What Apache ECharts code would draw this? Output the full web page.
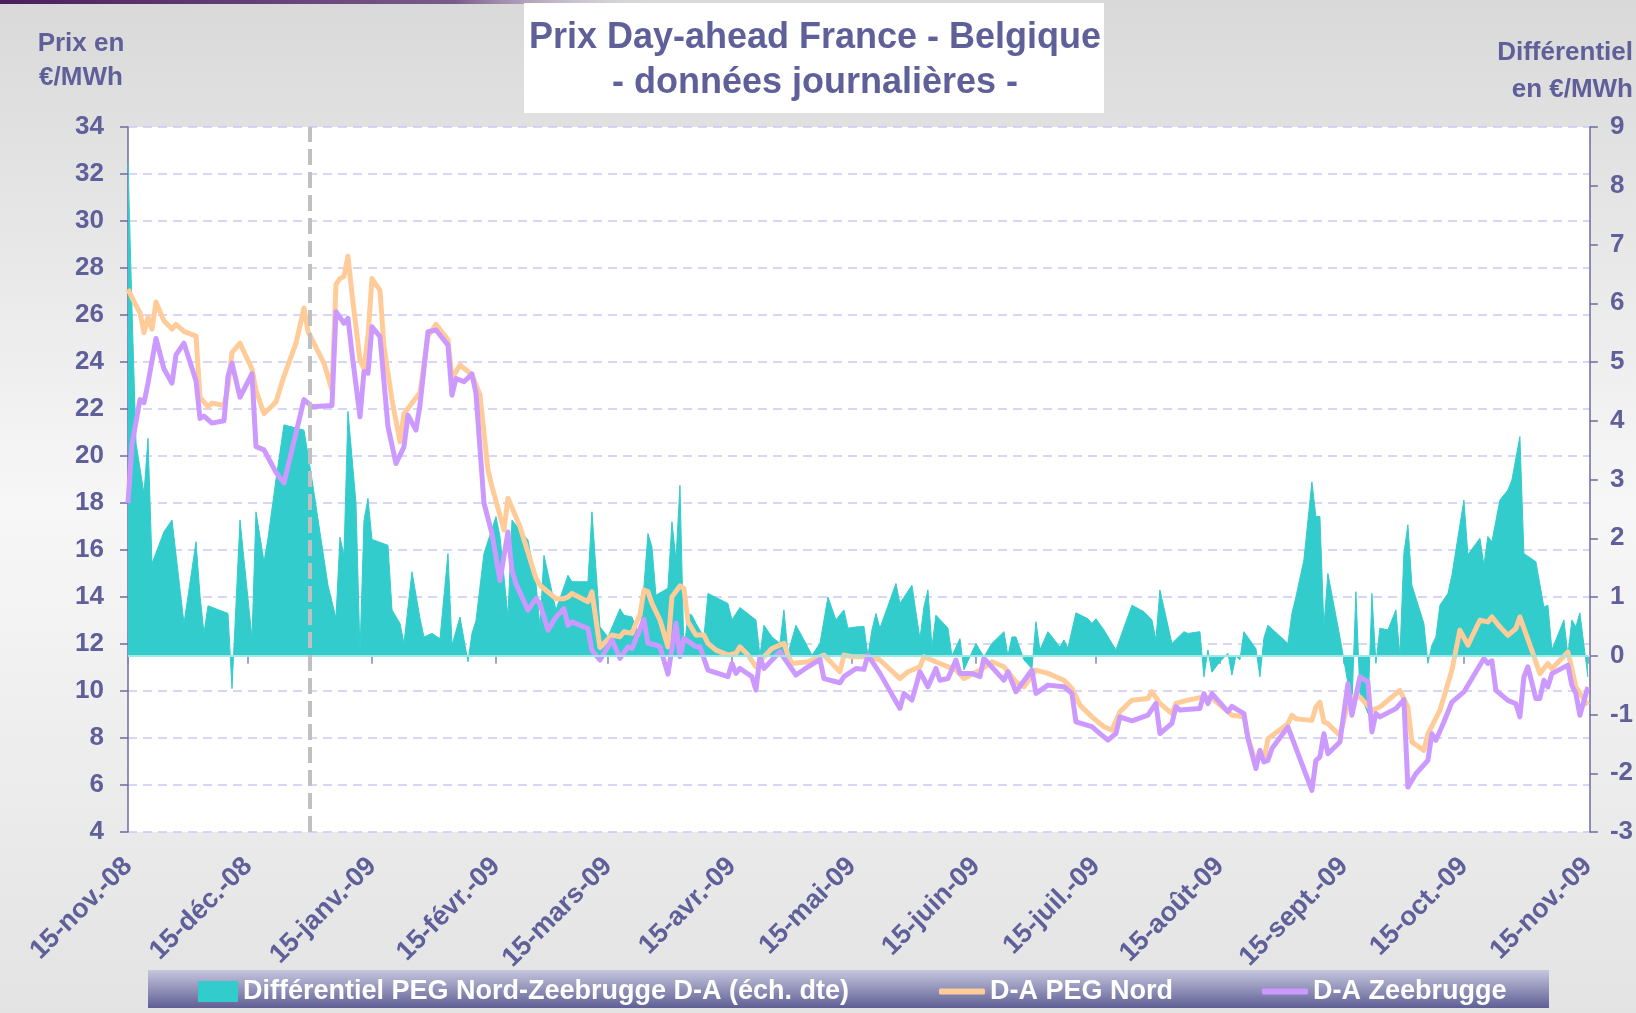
<!DOCTYPE html>
<html lang="fr">
<head>
<meta charset="utf-8">
<title>Prix Day-ahead France - Belgique</title>
<script src="https://cdn.jsdelivr.net/npm/echarts@6/dist/echarts.min.js"></script>
<style>
html, body { margin: 0; padding: 0; }
#chart { width: 1636px; height: 1013px; }
</style>
</head>
<body>
<div id="chart"></div>
<script>
// abscisse : jours depuis le 15-nov.-08
const tickJours = [0, 30, 61, 92, 120, 151, 181, 212, 242, 273, 304, 334, 365];
const tickLabels = ['15-nov.-08', '15-déc.-08', '15-janv.-09', '15-févr.-09', '15-mars-09', '15-avr.-09',
    '15-mai-09', '15-juin-09', '15-juil.-09', '15-août-09', '15-sept.-09', '15-oct.-09', '15-nov.-09'];
const separation = 45.5; // trait vertical pointillé (fin déc.-08)

// D-A PEG Nord (€/MWh, échelle de gauche)
const pegJours = [0, 2, 3, 4, 5, 6, 7, 9, 11, 12, 14, 17, 18, 20, 21, 24, 25, 26, 28, 31, 32, 34, 37, 39, 42, 44, 45, 46,
    49, 51, 52, 53, 54, 55, 56, 58, 59, 60, 61, 63, 64, 66, 68, 69, 73, 75, 77, 80, 81, 83, 86, 88, 90, 91, 94, 95, 98,
    102, 103, 107, 109, 110, 111, 115, 116, 118, 121, 123, 124, 126, 127, 128, 129, 130, 131, 133, 135, 136, 138, 139,
    140, 141, 142, 144, 145, 147, 150, 152, 153, 155, 157, 159, 161, 164, 165, 166, 170, 174, 178, 179, 181, 185, 188,
    193, 195, 198, 199, 203, 207, 209, 213, 216, 219, 222, 224, 227, 230, 234, 236, 238, 241, 244, 246, 248, 251, 255,
    256, 258, 261, 262, 265, 268, 271, 276, 279, 280, 282, 283, 284, 285, 290, 291, 292, 296, 297, 298, 299, 300, 303,
    305, 306, 308, 311, 313, 318, 320, 321, 324, 325, 328, 331, 333, 335, 338, 340, 341, 343, 345, 347, 348, 351, 353,
    355, 356, 360, 361, 362, 365];
const pegNord = [27.1, 26.4, 26.1, 25.25, 25.9, 25.4, 26.55, 25.75, 25.4, 25.6, 25.3, 25.1, 22.5, 22.1, 22.25, 22.15,
    22.95, 24.4, 24.8, 23.7, 22.8, 21.8, 22.3, 23.4, 24.8, 26.3, 25.3, 24.95,
    23.95, 22.8, 27.3, 27.55, 27.65, 28.5, 26.9, 24.1, 23.7, 25.1, 27.55, 27.05, 24.65, 22.4, 20.6, 21.8, 22.7, 25.1,
    25.6, 24.95, 23.3, 23.87, 23.45, 22.6, 19.4, 18.7, 16.85, 18.2, 17.0,
    14.8, 14.5, 13.93, 13.93, 14.0, 14.15, 13.8, 14.22, 11.85, 12.38, 12.31, 12.52, 12.45, 12.88, 13.23, 14.3, 14.23,
    13.73, 13.02, 11.88, 14.01, 14.47, 14.37,
    12.95, 12.66, 12.38, 12.38, 12.03, 11.74, 11.53, 11.6, 11.88, 11.53, 11.03, 11.46, 11.81, 12.03, 11.53, 11.17,
    11.24, 11.53, 10.82, 11.53, 11.46, 11.46, 11.32,
    10.53, 10.82, 11.03, 11.46, 11.17, 10.89, 10.53, 10.89, 11.24, 11.03, 10.39, 10.18, 10.89, 10.75, 10.46, 10.11,
    9.4, 8.9, 8.48, 8.33, 9.12, 9.61, 9.68,
    9.97, 9.47, 9.04, 9.47, 9.61, 9.72, 9.7, 8.97, 8.9, 8.04, 6.91, 7.47, 7.05, 7.97, 8.61, 8.97, 8.82, 8.75, 9.32,
    9.53, 8.68, 8.61, 8.11,
    9.46, 9.75, 9.75, 9.18, 9.32, 10.03, 9.32, 7.83, 7.47, 8.18, 9.18, 10.88, 12.59, 11.95, 13.01, 12.94, 13.15, 12.73,
    12.37, 12.66, 13.15, 11.73, 10.74,
    11.17, 10.95, 11.66, 10.95, 10.17, 9.4];

// D-A Zeebrugge (€/MWh, échelle de gauche)
const zeeJours = [0, 1, 3, 4, 5, 7, 9, 11, 12, 14, 17, 18, 19, 21, 24, 25, 26, 28, 31, 32, 34, 37, 39, 44, 46, 51, 52,
    54, 55, 56, 58, 59, 60, 61, 63, 65, 67, 69, 70, 72, 73, 75, 77, 80, 81, 82, 84, 86, 87, 89, 91, 93, 95, 96, 97, 100,
    102, 103, 105, 107, 109, 110, 111, 115, 116, 118, 121, 123, 125, 126, 129, 130, 132, 133, 135, 137, 138, 139, 142,
    143, 145, 150, 151, 152, 153, 156, 157, 158, 159, 161, 163, 165, 167, 170, 173, 174, 178, 179, 182, 184, 185, 188,
    193, 194, 196, 198, 200, 202, 203, 205, 207, 208, 211, 213, 214, 219, 220, 222, 226, 227, 230, 234, 236, 237, 241,
    243, 245, 247, 248, 251, 255, 257, 258, 261, 262, 263, 268, 269, 270, 271, 275, 276, 279, 280, 282, 283, 284, 285,
    286, 290, 296, 297, 298, 299, 300, 303, 305, 306, 308, 310, 311, 312, 313, 317, 319, 320, 322, 325, 326, 327, 329,
    331, 334, 339, 340, 341, 342, 345, 347, 348, 349, 350, 352, 353, 354, 355, 356, 360, 361, 362, 363, 365];
const zeebrugge = [18.0, 20.5, 22.4, 22.27, 23.1, 25.0, 23.7, 23.1, 24.3, 24.8, 23.2, 21.6, 21.7, 21.4, 21.5, 23.4,
    23.95, 22.5, 23.5, 20.4, 20.26, 19.3, 18.85, 22.4, 22.1, 22.15, 26.14,
    25.65, 25.86, 24.37, 21.67, 23.59, 23.52, 25.5, 25.08, 21.25, 19.68, 20.39, 21.74, 21.1, 22.17, 25.29, 25.36, 24.72,
    22.59, 23.3, 23.16, 23.49, 22.67, 18.0, 16.7, 14.7, 16.77, 15.14, 14.57, 13.44,
    13.93, 13.72, 12.59, 13.15, 13.5, 12.8, 12.94, 12.66, 11.73, 11.32, 12.17, 11.39, 11.88, 11.81, 13.05, 12.03, 11.96,
    11.88, 10.72, 12.88, 11.46, 12.24, 11.88,
    11.88, 10.89, 10.61, 11.17, 10.75, 10.96, 10.61, 10.04, 11.46, 10.96, 11.32, 11.67, 11.17, 10.68, 11.03, 11.34,
    10.53, 10.35, 10.61, 10.96, 10.92, 11.53, 10.75,
    9.26, 9.9, 9.61, 10.82, 10.18, 10.96, 10.46, 10.53, 11.32, 10.75, 10.75, 10.61, 11.39, 10.46, 10.82, 9.97, 10.89,
    9.9, 10.25, 10.18, 9.9, 8.69, 8.48,
    8.19, 7.91, 8.19, 8.9, 8.73, 8.97, 9.47, 8.19, 8.62, 9.33, 9.19, 9.26, 9.89, 9.46, 9.89, 9.12, 9.35, 9.04, 7.98,
    6.7, 7.47, 6.98, 7.05,
    7.55, 8.47, 5.77, 7.05, 7.19, 8.18, 7.33, 7.83, 10.31, 8.97, 10.6, 10.39, 8.26, 9.04, 8.9, 9.25, 9.63, 5.91, 6.48,
    7.05, 8.18, 7.9, 8.68,
    9.53, 9.96, 11.38, 11.17, 11.28, 10.03, 9.6, 9.46, 8.9, 10.6, 11.03, 9.68, 9.68, 10.46, 10.17, 10.74, 11.1, 10.24,
    9.89, 8.97, 10.17];

// Différentiel PEG Nord - Zeebrugge (€/MWh, échelle de droite)
const diffJours = [0, 1, 2, 4, 5, 6, 9, 11, 14, 17, 18, 19, 20, 25, 26, 28, 31, 32, 34, 35, 37, 39, 44, 46, 48, 50, 52,
    53, 54, 55, 57, 58, 59, 60, 61, 65, 66, 68, 69, 71, 73, 74, 76, 78, 80, 81, 83, 85, 86, 87, 89, 92, 93, 95, 96, 100,
    102, 103, 104, 107, 110, 111, 115, 116, 118, 120, 123, 124, 126, 128, 130, 131, 132, 135, 136, 137, 138, 139, 140,
    141, 142, 144, 145, 150, 151, 153, 157, 158, 159, 161, 163, 164, 165, 167, 169, 171, 173, 175, 177, 179, 180, 182,
    184, 185, 186, 187, 188, 192, 193, 196, 198, 199, 200, 201, 202, 205, 206, 208, 209, 212, 214, 216, 219, 220, 221,
    222, 224, 226, 227, 228, 230, 233, 234, 235, 237, 240, 241, 242, 244, 247, 251, 254, 256, 257, 258, 261, 264, 265,
    268, 269, 270, 271, 273, 275, 276, 277, 278, 279, 282, 283, 284, 285, 290, 291, 292, 294, 296, 297, 298, 299, 300,
    303, 305, 306, 307, 308, 310, 311, 312, 313, 315, 317, 318, 319, 320, 321, 324, 325, 326, 327, 328, 330, 331, 334,
    335, 338, 339, 340, 341, 343, 345, 346, 348, 349, 352, 354, 355, 356, 359, 360, 361, 362, 363, 365];
const differentiel = [8.39, 5.9, 3.62, 2.76, 3.7, 1.57, 2.11, 2.31, 0.55, 1.94, 1.03, 0.38, 0.85, 0.72, -0.56, 2.31,
    0.3, 2.45, 1.6, 2.0, 3.0, 3.93, 3.84, 3.0, 2.1, 1.2, 0.64,
    2.02, 1.71, 4.16, 2.6, 0.05, 2.3, 2.68, 1.98, 1.88, 0.78, 0.55, 0.21, 1.43, 0.64, 0.32, 0.38, 0.29, 1.74, 0.18, 0.66,
    -0.1, 0.38, 0.6, 1.74, 2.37, 2.03, 0.66, 2.31, 1.97,
    1.23, 0.49, 1.71, 0.78, 1.37, 1.26, 1.26, 2.45, 0.49, 0.32, 0.8, 0.69, 0.66, 0.3, 2.08, 1.85, 1.03, 1.15, 2.28, 1.63,
    2.9, 0.04, 0.72,
    0.69, 0.55, 0.32, 1.06, 0.89, 0.61, 0.82, 0.61, 0, 0.52, 0.32, 0.21, 0.78, 0.04, 0.52, 0.27, 0.01, 0.21, 1.0, 0.61,
    0.78, 0.47, 0.49,
    0.5, 0, 0.44, 0.72, 0.47, 1.23, 0.89, 1.2, 0.29, 0.83, 1.12, 0.15, 0.69, 0.47, 0, 0.29, -0.24, 0.21, -0.02, 0.21,
    0.41, 0, 0.32,
    0.32, -0.07, -0.22, 0.58, 0.1, 0.41, 0.15, 0.27, 0.13, 0.73, 0.63, 0.55, 0.63, 0.44, 0.1, 0.86, 0.75, 0.61, 0.27,
    1.12, 0.21, 0.41, 0.38,
    0.41, -0.36, 0.1, -0.28, -0.1, 0.04, -0.33, 0, -0.07, 0.41, 0.12, -0.36, 0.3, 0.52, 0.21, 0.72, 1.0, 1.63, 2.96,
    2.37, 2.37, 0.49, 1.4,
    0.32, -0.47, -0.87, 1.09, -0.64, -0.98, 1.06, -0.13, 0.47, 0.44, 0.78, 0, 1.74, 2.23, 1.2, 0.55, -0.13, 0.18, 0.32,
    0.86, 1.06, 1.37, 2.65,
    1.72, 2.0, 1.54, 2.03, 1.94, 2.65, 2.82, 2.99, 3.73, 1.74, 1.6, 0.83, 0.86, 0.1, 0.61, 0.01, 0.61, 0.49, 0.73, -0.36];

const diffName = 'Différentiel PEG Nord-Zeebrugge D-A (éch. dte)';
const pegName = 'D-A PEG Nord';
const zeeName = 'D-A Zeebrugge';

const zip = (xs, ys) => xs.map((x, i) => [x, ys[i]]);

const police = "'Liberation Sans', Arial, sans-serif";
const violet = '#5f5f99';
const axeCouleur = '#6c6ca0';

const chart = echarts.init(document.getElementById('chart'));
const option = {
    animation: false,
    backgroundColor: {
        type: 'linear', x: 0, y: 0, x2: 0, y2: 1,
        colorStops: [
            { offset: 0, color: '#d9d9d9' },
            { offset: 0.5, color: '#f7f7f7' },
            { offset: 1, color: '#e3e3e3' }
        ]
    },
    textStyle: { fontFamily: police },
    title: {
        text: 'Prix Day-ahead France - Belgique\n- données journalières -',
        left: 810,
        top: 11,
        textAlign: 'center',
        textStyle: { fontSize: 36, fontWeight: 'bold', color: violet, lineHeight: 45, fontFamily: police }
    },
    graphic: [
        {
            type: 'rect', left: 0, top: 0, z: 0,
            shape: { width: 650, height: 4 },
            style: {
                fill: {
                    type: 'linear', x: 0, y: 0, x2: 1, y2: 0,
                    colorStops: [
                        { offset: 0, color: '#4a1f5c' },
                        { offset: 0.7, color: '#7a5a8c' },
                        { offset: 1, color: 'rgba(210,200,220,0)' }
                    ]
                }
            }
        },
        {
            // cadre blanc du titre
            type: 'rect', left: 524, top: 3, z: 0,
            shape: { width: 580, height: 110 },
            style: { fill: '#ffffff' }
        },
        {
            type: 'text', x: 81, y: 61, z: 5,
            style: {
                text: 'Prix en\n€/MWh', align: 'center', verticalAlign: 'middle', lineHeight: 34,
                fill: violet, font: "bold 26px 'Liberation Sans', Arial, sans-serif"
            }
        },
        {
            type: 'text', x: 1633, y: 71, z: 5,
            style: {
                text: 'Différentiel\nen €/MWh', align: 'right', verticalAlign: 'middle', lineHeight: 37,
                fill: violet, font: "bold 26px 'Liberation Sans', Arial, sans-serif"
            }
        },
        {
            // bandeau de la légende
            type: 'rect', left: 148, top: 970, z: 0,
            shape: { width: 1401, height: 38 },
            style: {
                fill: {
                    type: 'linear', x: 0, y: 0, x2: 0, y2: 1,
                    colorStops: [
                        { offset: 0, color: '#c6c6de' },
                        { offset: 1, color: '#5f5f95' }
                    ]
                }
            }
        }
    ],
    legend: [
        {
            data: [{ name: diffName, icon: 'rect' }],
            left: 193,
            top: 973,
            itemWidth: 40,
            itemHeight: 21,
            textStyle: { color: '#ffffff', fontSize: 27, fontWeight: 'bold', fontFamily: police }
        },
        {
            data: [pegName, zeeName],
            icon: 'roundRect',
            left: 934,
            top: 973,
            itemWidth: 46,
            itemHeight: 6,
            itemGap: 89,
            textStyle: { color: '#ffffff', fontSize: 27, fontWeight: 'bold', fontFamily: police }
        }
    ],
    grid: {
        left: 128,
        right: 46,
        top: 127,
        bottom: 181,
        show: true,
        backgroundColor: '#ffffff',
        borderWidth: 0
    },
    xAxis: {
        type: 'value',
        min: 0,
        max: 365.5,
        axisLine: { lineStyle: { color: '#8585b0', width: 2 } },
        axisTick: {
            customValues: tickJours,
            length: 8,
            lineStyle: { color: '#8585b0', width: 1.5 }
        },
        axisLabel: {
            customValues: tickJours,
            rotate: 45,
            margin: 30,
            color: violet,
            fontSize: 27,
            fontWeight: 'bold',
            fontFamily: police,
            formatter: (v) => tickLabels[tickJours.indexOf(v)]
        },
        splitLine: { show: false }
    },
    yAxis: [
        {
            type: 'value',
            position: 'left',
            min: 4,
            max: 34,
            interval: 2,
            axisLine: { show: true, lineStyle: { color: axeCouleur, width: 1.5 } },
            axisTick: { show: true, length: 8, lineStyle: { color: axeCouleur, width: 1.5 } },
            axisLabel: { color: violet, fontSize: 26, fontWeight: 'bold', margin: 24, fontFamily: police },
            splitLine: { show: true, lineStyle: { color: '#c9c9f4', width: 1.5, type: [9, 6] } }
        },
        {
            type: 'value',
            position: 'right',
            min: -3,
            max: 9,
            interval: 1,
            axisLine: { show: true, lineStyle: { color: axeCouleur, width: 1.5 } },
            axisTick: { show: true, length: 8, lineStyle: { color: axeCouleur, width: 1.5 } },
            axisLabel: { color: violet, fontSize: 26, fontWeight: 'bold', margin: 20, fontFamily: police },
            splitLine: { show: false }
        }
    ],
    series: [
        {
            name: diffName,
            type: 'line',
            yAxisIndex: 1,
            data: zip(diffJours, differentiel),
            symbol: 'none',
            color: '#33cccc',
            lineStyle: { width: 1, color: '#33cccc' },
            areaStyle: { color: '#33cccc', opacity: 1 },
            z: 2,
            markLine: {
                silent: true,
                symbol: ['none', 'none'],
                label: { show: false },
                lineStyle: { color: '#a3e6e6', width: 2, type: 'solid' },
                data: [{ yAxis: 0 }]
            }
        },
        {
            name: pegName,
            type: 'line',
            data: zip(pegJours, pegNord),
            symbol: 'none',
            color: '#ffcc99',
            lineStyle: { width: 5, color: '#ffcc99', join: 'round' },
            z: 3,
            markLine: {
                silent: true,
                symbol: ['none', 'none'],
                label: { show: false },
                lineStyle: { color: '#c0c0c0', width: 4, type: [16, 7] },
                data: [{ xAxis: separation }]
            }
        },
        {
            name: zeeName,
            type: 'line',
            data: zip(zeeJours, zeebrugge),
            symbol: 'none',
            color: '#cc99ff',
            lineStyle: { width: 5, color: '#cc99ff', join: 'round' },
            z: 4
        }
    ]
};
chart.setOption(option);
</script>
</body>
</html>
